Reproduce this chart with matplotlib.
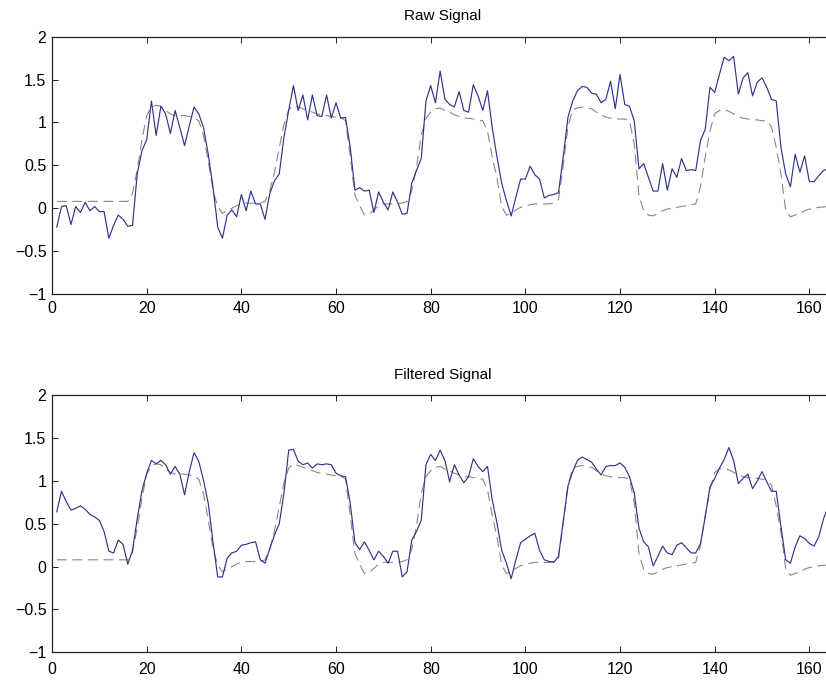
import numpy as np
import matplotlib
matplotlib.use('Agg')
import matplotlib.pyplot as plt

plt.rcParams['font.family'] = ['Liberation Sans', 'DejaVu Sans']

raw = [-0.22, 0.02, 0.03, -0.19, 0.02, -0.05, 0.07, -0.03, 0.02, -0.04,
       -0.04, -0.35, -0.2, -0.08, -0.13, -0.21, -0.2, 0.4, 0.67, 0.8,
       1.25, 0.85, 1.19, 1.1, 0.87, 1.14, 0.94, 0.73, 0.96, 1.18,
       1.1, 0.94, 0.63, 0.25, -0.22, -0.35, -0.08, -0.02, -0.1, 0.16,
       -0.03, 0.2, 0.05, 0.05, -0.13, 0.17, 0.32, 0.4, 0.83, 1.14,
       1.43, 1.14, 1.32, 1.03, 1.32, 1.08, 1.07, 1.32, 1.05, 1.23,
       1.05, 1.06, 0.71, 0.21, 0.24, 0.2, 0.21, -0.05, 0.19, 0.07,
       -0.02, 0.19, 0.07, -0.07, -0.06, 0.29, 0.44, 0.58, 1.25, 1.43,
       1.23, 1.6, 1.27, 1.21, 1.18, 1.36, 1.14, 1.12, 1.44, 1.31,
       1.14, 1.37, 0.94, 0.6, 0.29, 0.09, -0.09, 0.13, 0.34, 0.34,
       0.49, 0.39, 0.34, 0.12, 0.15, 0.16, 0.18, 0.6, 1.06, 1.25,
       1.37, 1.42, 1.41, 1.34, 1.33, 1.23, 1.27, 1.48, 1.16, 1.56,
       1.21, 1.19, 1.02, 0.46, 0.52, 0.36, 0.2, 0.2, 0.52, 0.21,
       0.46, 0.36, 0.58, 0.44, 0.45, 0.44, 0.79, 0.92, 1.41, 1.35,
       1.56, 1.76, 1.72, 1.77, 1.33, 1.52, 1.58, 1.31, 1.47, 1.52,
       1.41, 1.27, 1.25, 0.71, 0.4, 0.25, 0.63, 0.42, 0.61, 0.31,
       0.31, 0.38, 0.44, 0.46, 0.48]

filtered = [0.64, 0.88, 0.76, 0.66, 0.68, 0.71, 0.67, 0.61, 0.58, 0.54,
            0.41, 0.18, 0.16, 0.31, 0.26, 0.03, 0.19, 0.56, 0.89, 1.09,
            1.24, 1.2, 1.24, 1.19, 1.08, 1.17, 1.08, 0.84, 1.11, 1.33,
            1.23, 1.01, 0.74, 0.29, -0.12, -0.12, 0.1, 0.16, 0.18, 0.25,
            0.26, 0.28, 0.29, 0.08, 0.04, 0.21, 0.37, 0.5, 0.86, 1.36,
            1.37, 1.23, 1.19, 1.21, 1.15, 1.2, 1.19, 1.2, 1.19, 1.09,
            1.06, 1.05, 0.74, 0.28, 0.2, 0.29, 0.19, 0.08, 0.18, 0.12,
            0.04, 0.18, 0.18, -0.12, -0.06, 0.31, 0.41, 0.54, 1.19, 1.31,
            1.24, 1.36, 1.24, 0.99, 1.19, 1.07, 0.98, 1.05, 1.26, 1.17,
            1.11, 1.17, 0.78, 0.51, 0.19, 0.04, -0.14, 0.08, 0.28, 0.32,
            0.36, 0.39, 0.19, 0.08, 0.06, 0.05, 0.12, 0.53, 0.94, 1.11,
            1.24, 1.28, 1.25, 1.22, 1.14, 1.07, 1.17, 1.18, 1.18, 1.21,
            1.16, 1.05, 0.86, 0.45, 0.29, 0.23, 0.01, 0.12, 0.24, 0.16,
            0.14, 0.25, 0.28, 0.22, 0.16, 0.16, 0.27, 0.58, 0.93, 1.03,
            1.15, 1.25, 1.39, 1.24, 0.97, 1.03, 1.08, 0.91, 1.0, 1.11,
            0.99, 0.88, 0.88, 0.47, 0.08, 0.04, 0.23, 0.36, 0.33, 0.27,
            0.24, 0.35, 0.56, 0.7, 0.8]

# reference (dashed) signal, same in both panels
reference = [0.08] * 16 + [
    0.17, 0.45, 0.8, 1.08, 1.18, 1.2, 1.19, 1.14, 1.1, 1.08,
    1.08, 1.08, 1.07, 1.05, 1.02, 0.85, 0.55, 0.21, 0.02, -0.06,
    -0.03, 0.0, 0.03, 0.05, 0.06, 0.06, 0.06, 0.06, 0.08, 0.2,
    0.42, 0.7, 0.98, 1.15, 1.2, 1.18, 1.16, 1.14, 1.12, 1.1,
    1.09, 1.08, 1.07, 1.06, 1.06, 1.02, 0.6, 0.15, 0.03, -0.08,
    -0.07, -0.02, 0.03, 0.05, 0.05, 0.05, 0.05, 0.06, 0.08, 0.2,
    0.48, 0.85, 1.05, 1.12, 1.16, 1.17, 1.14, 1.12, 1.09, 1.07,
    1.05, 1.05, 1.04, 1.03, 1.02, 0.9, 0.6, 0.35, 0.02, -0.08,
    -0.06, -0.02, 0.01, 0.03, 0.04, 0.05, 0.05, 0.05, 0.05, 0.06,
    0.1, 0.5, 0.95, 1.15, 1.17, 1.18, 1.17, 1.16, 1.12, 1.09,
    1.06, 1.05, 1.04, 1.04, 1.04, 1.02, 0.75, 0.15, -0.03, -0.08,
    -0.09, -0.06, -0.03, -0.01, 0.0, 0.01, 0.02, 0.03, 0.04, 0.05,
    0.25, 0.6, 0.9, 1.1, 1.14, 1.15, 1.13, 1.1, 1.07, 1.05,
    1.04, 1.03, 1.03, 1.02, 1.02, 0.95, 0.71, 0.4, -0.02, -0.1,
    -0.08, -0.06, -0.03, -0.01, 0.0, 0.01, 0.015, 0.02, 0.02]

x = np.arange(1, len(raw) + 1)

titles = ['Raw Signal', 'Filtered Signal']
xticks = [0, 20, 40, 60, 80, 100, 120, 140, 160]
yticks = [-1, -0.5, 0, 0.5, 1, 1.5, 2]
ytick_labels = ['\u22121', '\u22120.5', '0', '0.5', '1', '1.5', '2']

fig = plt.figure(figsize=(8.26, 6.81), dpi=100)
# axes run a little past the right edge, like the cropped original
ax1 = fig.add_axes([0.063, 0.5683, 0.9455, 0.3778])
ax2 = fig.add_axes([0.063, 0.0421, 0.9455, 0.3774])

for ax, sig, title, pad in [(ax1, raw, titles[0], 5), (ax2, filtered, titles[1], 7)]:
    ax.plot(x, reference, color='#9a8080', lw=0.8, dashes=(9, 5))
    ax.plot(x, sig, color='#33338c', lw=0.85)
    ax.set_xticks(xticks)
    ax.set_yticks(yticks)
    ax.set_yticklabels(ytick_labels)
    ax.set_xlim(0, 165)
    ax.set_ylim(-1, 2)
    ax.tick_params(direction='in', top=True, right=True, length=4,
                   width=0.6, labelsize=11.5)
    ax.tick_params(axis='x', pad=pad)
    ax.tick_params(axis='y', pad=4)
    for s in ax.spines.values():
        s.set_linewidth(0.9)
        s.set_color('#222222')
    ax.set_title(title, fontsize=11, pad=12)

fig.savefig('out.png', dpi=100)
